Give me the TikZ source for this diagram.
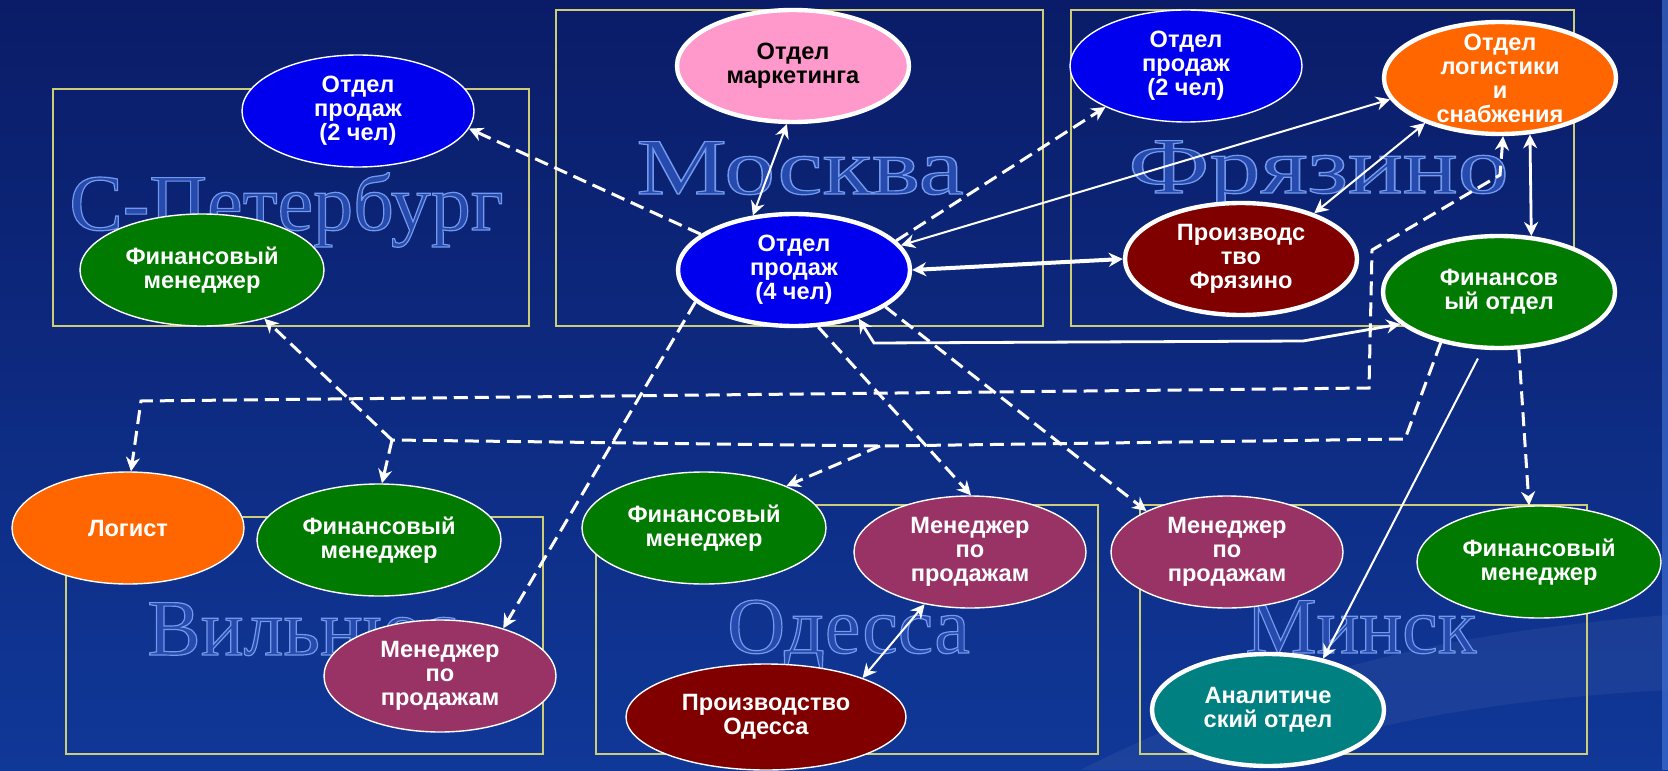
\documentclass[tikz,border=0pt]{standalone}
\usepackage{fontspec}
\setmainfont{Liberation Sans}
\newfontfamily\cityfont{Liberation Serif}
\usetikzlibrary{positioning, arrows.meta, shapes.geometric}

\definecolor{bgtop}{RGB}{10,28,104}
\definecolor{bgbottom}{RGB}{16,56,152}
\definecolor{boxline}{RGB}{205,205,120}
\definecolor{salesblue}{RGB}{0,0,238}
\definecolor{mktpink}{RGB}{255,153,204}
\definecolor{depgreen}{RGB}{0,122,0}
\definecolor{logorange}{RGB}{255,102,0}
\definecolor{prodred}{RGB}{128,0,0}
\definecolor{mgrplum}{RGB}{153,51,102}
\definecolor{anlteal}{RGB}{0,128,128}
\definecolor{cityfill}{RGB}{38,72,176}
\definecolor{stripblue}{RGB}{70,120,220}

% outlined city name (fill + stroke)
\newcommand{\cityoutline}[1]{\special{pdf:literal direct 0.15 0.29 0.68 rg 0.45 0.60 0.92 RG 2 Tr 0.6 w}#1\special{pdf:literal direct 0 Tr}}

\begin{document}
\begin{tikzpicture}[
    x=0.5pt, y=-0.5pt,
    unit/.style={ellipse, draw=white, line width=0.7pt, minimum width=116pt,
                 minimum height=56pt, inner sep=-10pt, text=white, align=center,
                 font=\fontsize{11.8}{12}\selectfont\bfseries},
    hub/.style={unit, line width=2.2pt},
    wide/.style={minimum width=122pt},
    city/.style={font=\cityfont\fontsize{40}{40}\selectfont, anchor=base west, inner sep=0pt},
    office/.style={draw=boxline, line width=0.7pt},
    arrow/.style={-{Stealth[length=7pt, width=7pt]}, draw=white, line width=1pt},
    twoway/.style={{Stealth[length=7pt, width=7pt]}-{Stealth[length=7pt, width=7pt]},
                   draw=white, line width=1pt},
    dashline/.style={draw=white, line width=1.5pt, dash pattern=on 7pt off 3.5pt}
]

    % Background
    \shade[top color=bgtop, bottom color=bgbottom] (0, 0) rectangle (1668, 770);
    \useasboundingbox (0, 0) rectangle (1668, 770);
    \fill[white, opacity=0.05] (1080, 770) .. controls (1300, 660) and (1480, 630) .. (1668, 615)
        -- (1668, 690) .. controls (1480, 700) and (1330, 730) .. (1250, 770) -- cycle;
    \fill[stripblue, opacity=0.6] (1662, 0) rectangle (1668, 770);

    % Offices
    \draw[office] (53, 89) rectangle (529, 326);
    \draw[office] (556, 10) rectangle (1043, 326);
    \draw[office] (1071, 10) rectangle (1574, 326);
    \draw[office] (66, 517) rectangle (543, 754);
    \draw[office] (596, 505) rectangle (1098, 754);
    \draw[office] (1140, 505) rectangle (1587, 754);

    % City names
    \foreach \cid/\cx/\cy/\cw/\cname in {spb/69/230/1.0/С-Петербург, msk/636/194/1.27/Москва,
        fry/1128/193/1.28/Фрязино, vln/147/655/1.0/Вильнюс, ods/727/653/1.0/Одесса,
        mns/1245/653/1.0/Минск} {
        \node[city, text=cityfill] (wm\cid) at (\cx, \cy) {\cityoutline{\scalebox{\cw}[1]{\cname}}};
    }

    % S-Petersburg
    \node[unit, fill=salesblue] (spbs) at (358, 111) {Отдел\\продаж\\(2 чел)};
    \node[unit, wide, fill=depgreen] (spbf) at (202, 270) {Финансовый\\менеджер};

    % Moscow
    \node[hub, fill=mktpink, text=black] (mkt) at (793, 66) {Отдел\\маркетинга};
    \node[hub, fill=salesblue] (smos) at (794, 270) {Отдел\\продаж\\(4 чел)};

    % Fryazino
    \node[unit, fill=salesblue] (sfry) at (1186, 66) {Отдел\\продаж\\(2 чел)};
    \node[hub, fill=logorange] (logi) at (1500, 78) {Отдел\\логистики\\и\\снабжения};
    \node[hub, fill=prodred] (pfry) at (1241, 259) {Производс\\тво\\Фрязино};
    \node[hub, fill=depgreen] (fdep) at (1499, 292) {Финансов\\ый отдел};

    % Vilnius
    \node[unit, fill=logorange] (logist) at (128, 528) {Логист};
    \node[unit, wide, fill=depgreen] (vfin) at (379, 540) {Финансовый\\менеджер};
    \node[unit, fill=mgrplum] (vsm) at (440, 676) {Менеджер\\по\\продажам};

    % Odessa
    \node[unit, wide, fill=depgreen] (ofin) at (704, 528) {Финансовый\\менеджер};
    \node[unit, fill=mgrplum] (osm) at (970, 552) {Менеджер\\по\\продажам};
    \node[unit, minimum width=140pt, minimum height=53pt, fill=prodred] (opr) at (766, 717)
        {Производство\\Одесса};

    % Minsk
    \node[unit, fill=mgrplum] (msm) at (1227, 552) {Менеджер\\по\\продажам};
    \node[unit, wide, fill=depgreen] (mfin) at (1539, 562) {Финансовый\\менеджер};
    \node[hub, fill=anlteal] (anl) at (1268, 710) {Аналитиче\\ский отдел};

    % Bends
    \coordinate (fb1) at (1303, 341);
    \coordinate (fb2) at (874, 343);
    \coordinate (lg1) at (1500, 175);
    \coordinate (lg2) at (1372, 250);
    \coordinate (lg3) at (1369, 388);
    \coordinate (lg4) at (141, 401);
    \coordinate (fc1) at (1405, 439);
    \coordinate (obr) at (880, 446);
    \coordinate (fjoin) at (392, 440);

    % Links from Moscow sales
    \draw[arrow, dashline] (smos.159) -- (spbs.351);
    \draw[twoway] (smos.127) -- (mkt.264);
    \draw[arrow, dashline] (smos.16) -- (sfry.207);
    \draw[twoway] (smos.13) -- (logi.191);
    \draw[twoway, line width=2pt] (smos.east) -- (pfry.west);
    \draw[arrow, dashline] (smos.198) -- (vsm.37);
    \draw[arrow, dashline] (smos.293) -- (osm.89);
    \draw[arrow, dashline] (smos.338) -- (msm.153);

    % Fryazino links
    \draw[twoway] (logi.211) -- (pfry.32);
    \draw[twoway, line width=1.4pt] (logi.298) -- (fdep.60);
    \draw[twoway, line width=1.4pt] (fdep.198) -- (fb1) -- (fb2) -- (smos.323);
    \draw[twoway, dashline] (logi.273) -- (lg1) -- (lg2) -- (lg3) -- (lg4) -- (logist.87);

    % Finance links
    \draw[dashline] (fdep.221) -- (fc1) -- (obr) -- (fjoin);
    \draw[arrow, dashline] (fjoin) -- (spbf.322);
    \draw[arrow, dashline] (fjoin) -- (vfin.87);
    \draw[arrow, dashline] (obr) -- (ofin.27);
    \draw[arrow, dashline] (fdep.289) -- (mfin.100);
    \draw[arrow, shorten <=5pt] (fdep.254) -- (anl.43);

    % Odessa production
    \draw[twoway] (osm.229) -- (opr.22);

\end{tikzpicture}
\end{document}
